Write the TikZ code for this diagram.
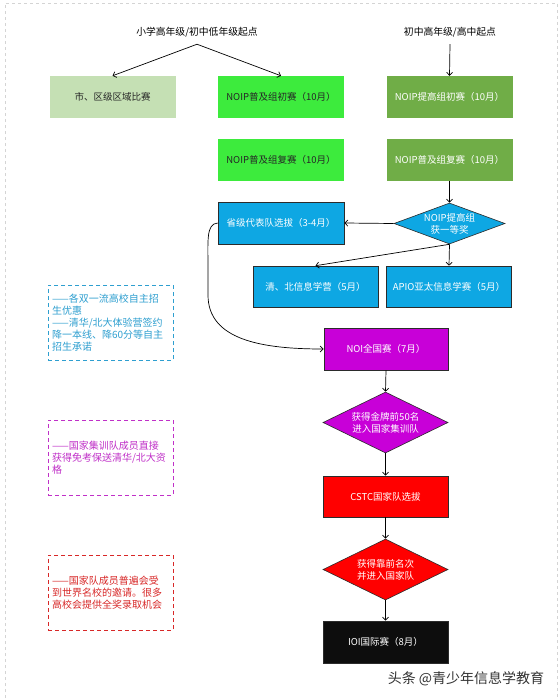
\documentclass[tikz,border=0pt]{standalone}
\usepackage{fontspec}
\setmainfont{Noto Sans CJK SC}
\usetikzlibrary{arrows.meta,shapes.geometric}
\definecolor{lgreen}{HTML}{C5E0B4}
\definecolor{bgreen}{HTML}{3DEB3D}
\definecolor{dgreen}{HTML}{70AD47}
\definecolor{cblue}{HTML}{0EA7E3}
\definecolor{cpurple}{HTML}{C800D8}
\definecolor{cred}{HTML}{FF0000}
\definecolor{cblack}{HTML}{0D0D0D}
\definecolor{edge}{HTML}{2B2B2B}
\definecolor{nblue}{HTML}{2E9FD0}
\definecolor{npurple}{HTML}{C030C8}
\definecolor{nred}{HTML}{D82828}
\definecolor{frame}{HTML}{D4D4D4}
\begin{document}
\begin{tikzpicture}[x=1pt,y=-1pt,
  boxstyle/.style={rectangle, minimum width=126pt, minimum height=42pt, inner sep=0pt,
    font=\fontsize{9.5}{11}\selectfont},
  diastyle/.style={diamond, inner sep=0pt, draw=edge, line width=0.6pt},
  diatext/.style={align=center, text=white, inner sep=0pt, font=\fontsize{9.5}{12}\selectfont},
  notestyle/.style={rectangle, dashed, line width=0.8pt, dash pattern=on 4pt off 3pt,
    minimum width=125pt, minimum height=75pt, text width=117pt, inner sep=4pt, align=left,
    font=\fontsize{10}{12}\selectfont},
  starttext/.style={font=\fontsize{9.8}{12}\selectfont, inner sep=7pt},
  conn/.style={draw=black, line width=0.7pt, -{Straight Barb[length=3pt,width=6pt]}}
]
\useasboundingbox (0,0) rectangle (558,698);
\fill[white] (0,0) rectangle (558,698);
\draw[frame, dashed, line width=0.6pt] (5,698) -- (5,3) -- (557,3) -- (557,698);

% start labels
\node[starttext] (s1) at (197,32) {小学高年级/初中低年级起点};
\node[starttext] (s2) at (450,32) {初中高年级/高中起点};

% row 1
\node[boxstyle, fill=lgreen, text=black!85] (b1) at (112.5,97) {市、区级区域比赛};
\node[boxstyle, fill=bgreen, text=black!85] (b2) at (281,97) {NOIP普及组初赛（10月）};
\node[boxstyle, fill=dgreen, text=white] (b3) at (449.5,97) {NOIP提高组初赛（10月）};
% row 2
\node[boxstyle, fill=bgreen, text=black!85] (b4) at (281,160) {NOIP普及组复赛（10月）};
\node[boxstyle, fill=dgreen, text=white] (b5) at (449.5,160) {NOIP普及组复赛（10月）};
% row 3
\node[boxstyle, fill=cblue, draw=edge, line width=0.6pt, text=white] (b6) at (281,223) {省级代表队选拔（3-4月）};
\node[diastyle, fill=cblue, minimum width=111pt, minimum height=41pt] (d1) at (449.5,223.5) {};
\node[diatext] (d1t) at (d1.center) {NOIP提高组\\获一等奖};
% row 4
\node[boxstyle, fill=cblue, draw=edge, line width=0.6pt, text=white, minimum width=125pt, minimum height=41pt] (b7) at (315.5,286.5) {清、北信息学营（5月）};
\node[boxstyle, fill=cblue, draw=edge, line width=0.6pt, text=white, minimum width=125pt, minimum height=41pt] (b8) at (449,286.5) {APIO亚太信息学赛（5月）};
% NOI
\node[boxstyle, fill=cpurple, draw=edge, line width=0.6pt, text=white, minimum width=124pt] (b9) at (386,349) {NOI全国赛（7月）};
\node[diastyle, fill=cpurple, minimum width=125pt, minimum height=61pt] (d2) at (385.5,422.5) {};
\node[diatext] (d2t) at (d2.center) {获得金牌前50名\\进入国家集训队};
\node[boxstyle, fill=cred, draw=edge, line width=0.6pt, text=white, minimum width=125pt, minimum height=41pt] (b10) at (385.5,496.5) {CSTC国家队选拔};
\node[diastyle, fill=cred, minimum width=125pt, minimum height=61pt] (d3) at (385.5,569.5) {};
\node[diatext] (d3t) at (d3.center) {获得靠前名次\\并进入国家队};
\node[boxstyle, fill=cblack, draw=edge, line width=0.6pt, text=white, minimum width=125pt] (b11) at (385.5,642) {IOI国际赛（8月）};

% notes
\node[notestyle, draw=nblue, text=nblue] (n1) at (110.5,322.5)
  {——各双一流高校自主招\\生优惠\\——清华/北大体验营签约\\降一本线、降60分等自主\\招生承诺};
\node[notestyle, draw=npurple, text=npurple] (n2) at (110.5,457.5)
  {——国家集训队成员直接\\获得免考保送清华/北大资\\格};
\node[notestyle, draw=nred, text=nred] (n3) at (110.5,592.5)
  {——国家队成员普遍会受\\到世界名校的邀请。很多\\高校会提供全奖录取机会};

% watermark
\node[font=\fontsize{14}{16}\selectfont, text=black!80, inner sep=0pt] (wm) at (466,679) {头条 @青少年信息学教育};

% connectors
\draw[conn] (s1.south) -- (b1.north);
\draw[conn] (s1.south) -- (b2.north);
\draw[conn] (s2.south) -- (b3.north);
\draw[conn] (b5.south) -- (d1.north);
\draw[conn] (d1.west) -- (b6.east);
\draw[conn] (d1.south) -- (b8.north);
\draw[conn] (d1.south) -- (b7.north);
\draw[conn] (b6.west) .. controls (206,224) and (208,240) .. (208,270)
  -- (208,295) .. controls (208,340) and (262,349) .. (b9.west);
\draw[conn] (b9.south) -- (d2.north);
\draw[conn] (d2.south) -- (b10.north);
\draw[conn] (b10.south) -- (d3.north);
\draw[conn] (d3.south) -- (b11.north);
\end{tikzpicture}
\end{document}
